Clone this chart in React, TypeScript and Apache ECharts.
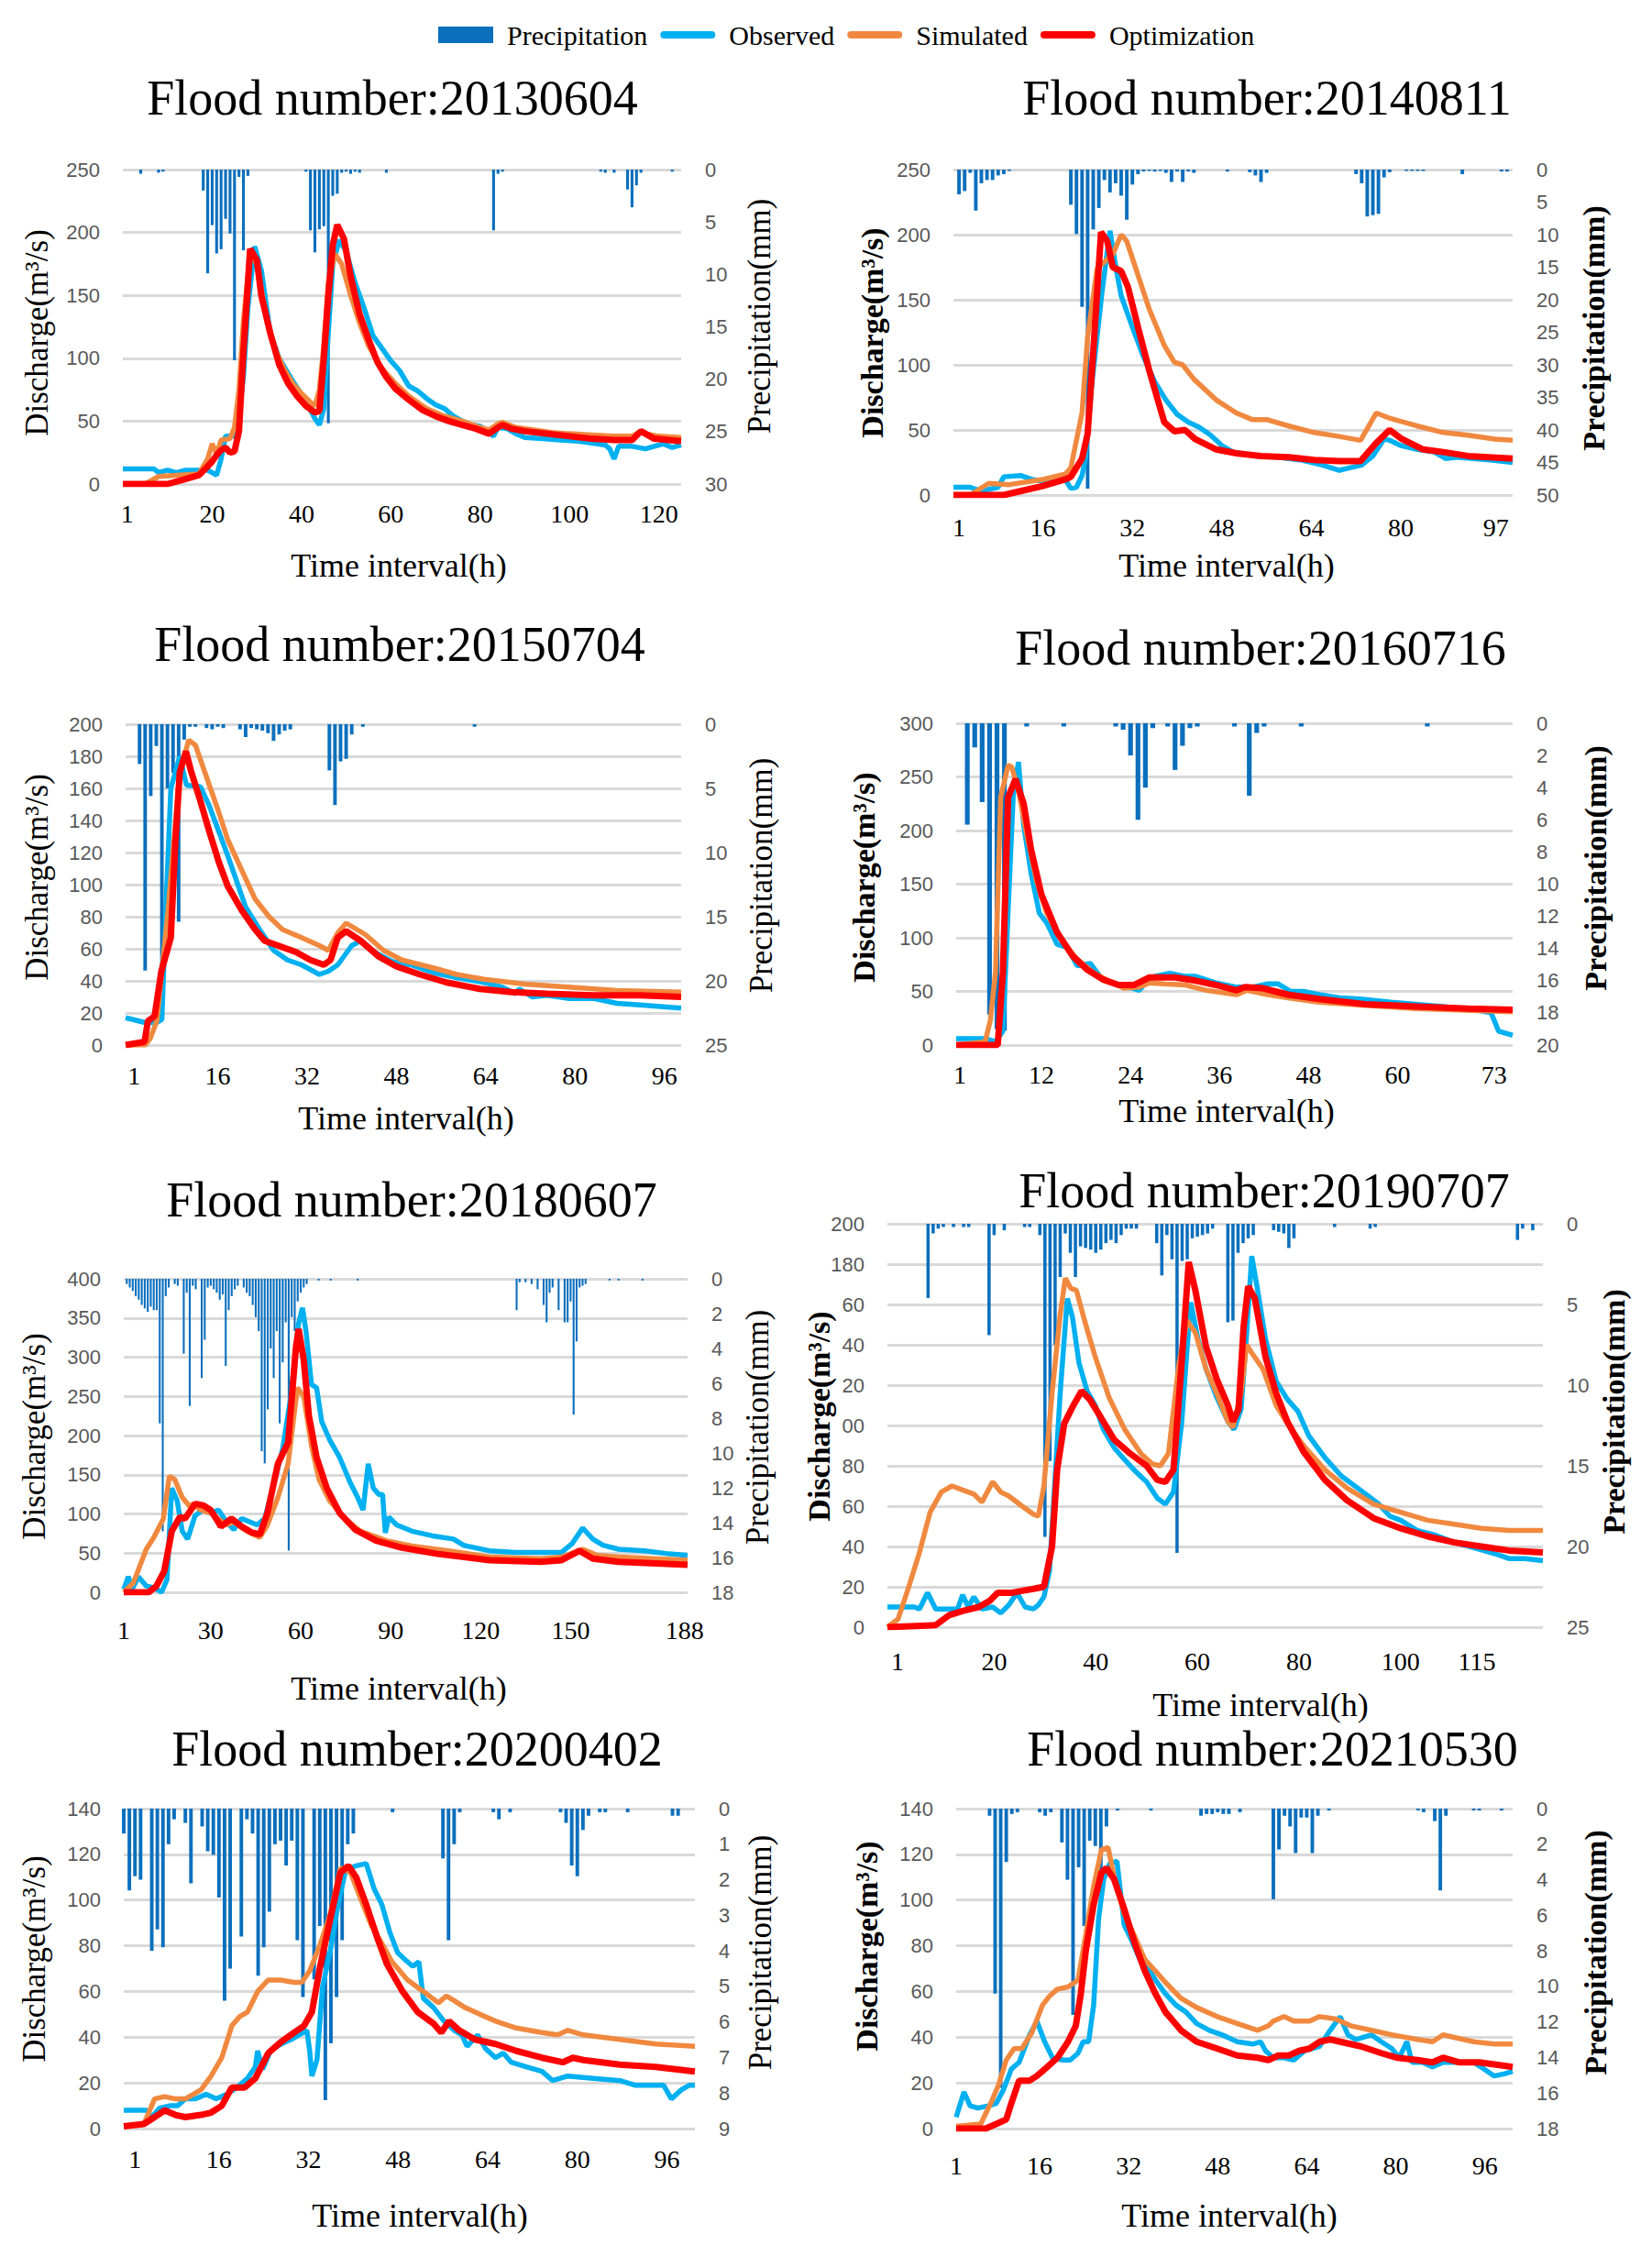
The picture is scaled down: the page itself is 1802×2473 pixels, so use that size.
import React, { useEffect, useRef } from 'react';
import * as echarts from 'echarts';

// ---------- Flood 20130604 ----------
const f1Ticks = [1, 20, 40, 60, 80, 100, 120];
const f1Obs = [[0,12],[7,12],[8,9],[10,11],[12,9],[14,11],[19,11],[21,7],[22,20],[23,38],[25,38],[26,55],[27,85],[28,140],[29.5,189],[31,170],[33,120],[35,100],[38,82],[41,66],[43,52],[44,47],[45,60],[46,120],[47,175],[48.5,194],[50,185],[52,160],[54,140],[56,118],[58,108],[60,98],[62,90],[64,78],[66,74],[68,68],[70,63],[72,60],[74,54],[76,50],[78,47],[80,46],[82,41],[83,38],[84,45],[86,44],[88,40],[90,37],[94,36],[98,35],[102,34],[106,32],[108,31],[109,28],[110,20],[111,30],[114,30],[117,28],[119,30],[121,32],[123,29],[125,31]];
const f1Sim = [[0,0],[5,0],[8,6],[12,7],[17,8],[19,20],[20,32],[21,24],[22,35],[24,36],[25,45],[26,75],[27,130],[28.5,183],[30,175],[32,135],[34,108],[36,92],[38,80],[40,72],[42,65],[43,62],[44,75],[45,110],[46,160],[47.5,183],[49,175],[51,150],[53,128],[55,110],[58,92],[61,80],[64,70],[68,60],[72,54],[76,50],[80,45],[82,43],[84,48],[85,49],[88,45],[92,43],[96,41],[100,40],[105,39],[110,38],[114,38],[116,42],[117,40],[120,38],[125,37]];
const f1Opt = [[0,0],[10,0],[14,4],[17,7],[19,14],[20,18],[21,23],[22,27],[23,29],[24,25],[25,26],[26,42],[27,105],[28.5,187],[30,178],[31,150],[33,120],[35,95],[37,80],[39,70],[41,62],[43,57],[44,58],[45,100],[46,150],[47,190],[48,206],[49.5,195],[51,165],[53,135],[55,115],[57,97],[59,85],[61,76],[64,67],[67,59],[70,54],[73,50],[76,47],[79,44],[82,40],[84,45],[85,47],[87,44],[90,42],[95,40],[100,38],[105,36],[110,35],[114,35],[116,42],[117,40],[119,36],[125,34]];
const f1Rain = [[4,0.4],[8,0.3],[9,0.2],[18,2.0],[19,9.9],[20,5.3],[21,8.0],[22,7.6],[23,4.7],[24,6.1],[25,18.2],[26,0.7],[27,7.7],[28,0.6],[41,0.2],[42,5.8],[43,7.9],[44,5.7],[45,5.4],[46,24.2],[47,2.5],[48,2.3],[49,0.3],[50,0.2],[51,0.4],[52,0.2],[53,0.3],[59,0.3],[83,5.8],[84,0.4],[85,0.2],[107,0.2],[108,0.3],[110,0.3],[113,1.9],[114,3.6],[115,1.5],[116,0.3],[123,0.2]];

// ---------- Flood 20140811 ----------
const f2Ticks = [1, 16, 32, 48, 64, 80, 97];
const f2Obs = [[0,6],[3,6],[5,3],[8,6],[9,14],[12,15],[14,12],[17,10],[20,12],[21,5],[22,6],[23,15],[23.6,28],[24.8,87],[26.6,157],[28,203],[29,176],[30,153],[32,129],[34,106],[36,87],[38,73],[40,62],[42,56],[44,52],[46,46],[48,38],[50,33],[54,30],[58,29],[62,27],[66,23],[69,19],[71,21],[73,23],[75,30],[77,43],[78,42],[80,38],[83,35],[86,33],[88,28],[90,29],[93,28],[96,27],[100,25]];
const f2Sim = [[0,0],[3,0],[6.3,9],[10,8],[16,12],[20,16],[21,21],[23,63],[24,122],[25.7,174],[28.5,185],[30,200],[31,195],[33,169],[35,143],[37.7,115],[39.5,102],[41,100],[43,89],[47,73],[50.6,63],[53.4,58],[56,58],[60,53],[64.5,48],[69,45],[72.8,42],[75.6,63],[78,59],[83,53],[87.6,48],[92,46],[96.8,43],[100,42]];
const f2Opt = [[0,0],[9,0],[12,3],[16,7],[20,12],[21,14],[23,28],[24,47],[25,110],[26.4,202],[27.5,195],[28.5,175],[30,172],[31.2,160],[33,129],[35,96],[37.7,56],[39.5,49],[41.4,50],[43.2,43],[47,35],[50.6,32],[55,30],[60,29],[64.5,27],[69,26],[72.8,26],[75.6,40],[78,50],[80.2,43],[84,35],[87.6,33],[92,30],[100,28]];
const f2Rain = [[1,3.8],[2,3.3],[3,0.5],[4,6.3],[5,2.1],[6,1.6],[7,1.6],[8,0.9],[9,0.7],[10,0.2],[21,5.4],[22,9.9],[23,21.1],[24,49],[25,9.2],[26,5.9],[27,1.6],[28,3.5],[29,2.1],[30,4.0],[31,7.7],[32,2.3],[33,0.7],[34,0.3],[35,0.2],[36,0.3],[37,0.2],[38,0.5],[39,1.9],[40,0.3],[41,1.9],[42,0.3],[43,0.5],[49,0.3],[53,0.4],[54,0.9],[55,1.9],[56,0.5],[72,0.7],[73,2.1],[74,7.2],[75,7.0],[76,6.8],[77,1.2],[78,0.4],[81,0.2],[82,0.2],[83,0.2],[84,0.2],[91,0.7],[98,0.3],[99,0.3]];

// ---------- Flood 20150704 ----------
const f3Ticks = [1, 16, 32, 48, 64, 80, 96];
const f3Obs = [[-0.5,17],[3,14],[5,14],[6,16],[6.7,84],[7.6,160],[9.2,180],[10.4,162],[12.9,161],[14.5,149],[17.8,118],[21,86],[23.5,72],[26,59],[28.5,53],[31,50],[34.2,44],[35.8,46],[37.5,50],[40,62],[41.6,65],[44,58],[47.3,52],[50.6,50],[54.7,45],[58.8,42],[63.7,39],[67,36],[69.4,32],[70,35],[72.3,30],[75,31],[79,29],[83.4,29],[87.5,26],[91.6,25],[99,23]];
const f3Sim = [[-0.5,0],[3,0],[3.9,4],[5.1,15],[7.1,84],[9.2,170],[10.8,190],[12,187],[13.7,170],[16.2,145],[17.8,128],[20.3,109],[22.7,91],[25.2,80],[27.6,72],[31,67],[34.2,62],[35.8,59],[37.5,70],[39,76],[42.4,69],[45.7,59],[49,53],[54.7,48],[58.8,44],[63.7,41],[71,38],[79.3,36],[87.5,34],[99,33]];
const f3Opt = [[-0.5,0],[2.9,2],[3.5,15],[4.7,18],[5.9,46],[7.6,67],[8.4,126],[9.2,170],[10.3,183],[11.2,171],[12.9,152],[14.5,133],[16.2,114],[17.8,99],[20.3,84],[22.7,72],[24.4,65],[27.6,61],[30,58],[32.6,53],[35,50],[36.2,53],[37.5,67],[39,71],[41.6,65],[44.9,55],[48,49],[52.2,44],[57,39],[62.9,35],[68.6,33],[75,32],[83.4,31],[91.6,31],[99,30]];
const f3Rain = [[2,3.1],[3,19.2],[4,5.6],[5,1.7],[6,18.9],[7,5.0],[8,3.8],[9,15.4],[10,1.2],[11,0.2],[12,0.2],[14,0.3],[15,0.4],[16,0.2],[17,0.3],[20,0.4],[21,1.0],[22,0.3],[23,0.4],[24,0.5],[25,0.7],[26,1.3],[27,0.8],[28,0.5],[29,0.4],[36,3.6],[37,6.3],[38,2.9],[39,2.7],[40,0.8],[42,0.2],[62,0.2]];

// ---------- Flood 20160716 ----------
const f4Ticks = [1, 12, 24, 36, 48, 60, 73];
const f4Obs = [[0.5,6],[4.4,6],[5.8,3],[6.8,13],[7.5,125],[8.2,234],[8.9,264],[9.6,205],[10.6,160],[11.7,123],[12.7,114],[14.1,94],[15.5,91],[16.8,74],[18.6,76],[20,63],[21.7,57],[23.8,54],[25.2,51],[25.9,57],[27.2,64],[29.3,67],[31.4,64],[32.8,64],[35.5,58],[38.3,54],[40.4,54],[42.5,57],[43.9,57],[45.6,50],[47.3,50],[49.4,47],[52.2,44],[54.9,43],[59.1,40],[66,36],[70.2,33],[72.6,30],[73.6,13],[75.5,9]];
const f4Sim = [[0.5,0],[4.4,3],[5.1,23],[5.8,68],[6.5,231],[7.5,261],[8,259],[8.9,237],[9.9,200],[11.3,154],[12.7,123],[14.8,97],[16.8,80],[18.9,68],[21,60],[23.1,53],[25.2,54],[26.5,58],[28.6,57],[31.4,56],[34.2,51],[38.3,47],[39.7,51],[42.5,47],[45.2,44],[49.4,40],[55.6,37],[62.5,34],[75.5,31]];
const f4Opt = [[0.5,0],[6.1,0],[6.8,68],[7.5,231],[8.5,248],[9.6,225],[10.6,182],[12,140],[14.1,105],[16.2,83],[18.2,70],[20.3,61],[22.4,56],[24.5,56],[26.5,63],[30,63],[32.8,60],[35.5,56],[38.3,51],[39.4,54],[41.8,53],[45.2,47],[49.4,43],[55.6,38],[62.5,36],[69.5,34],[75.5,33]];
const f4Rain = [[2,6.3],[3,1.5],[4,4.9],[5,18.1],[6,19.0],[7,19.1],[10,0.2],[15,0.2],[22,0.2],[23,0.4],[24,2.0],[25,6.0],[26,4.0],[27,0.3],[29,0.2],[30,2.9],[31,1.4],[32,0.3],[33,0.2],[38,0.2],[40,4.5],[41,0.6],[42,0.2],[47,0.2],[64,0.2]];

// ---------- Flood 20180607 ----------
const f5Ticks = [1, 30, 60, 90, 120, 150, 188];
const f5Obs = [[1,4],[2.5,20],[3.8,4],[5.9,20],[8.5,8],[11,6],[13.6,0],[15.4,16],[17,133],[18.8,117],[20.5,78],[22.3,68],[24.8,98],[27.4,105],[30,101],[32.6,105],[35.2,90],[37.7,80],[40.3,94],[42.9,90],[45.5,86],[48,94],[50.7,133],[54,183],[56.7,250],[59.3,343],[60.6,363],[61.8,332],[63.6,265],[65.3,261],[67,218],[69.6,195],[73,172],[76.5,140],[79,121],[80.8,105],[82.5,164],[84.2,133],[86,125],[87.3,125],[88.2,76],[89.4,96],[92,86],[97.1,78],[104,72],[110.9,68],[114.3,60],[122.9,53],[131.5,51],[140,51],[147,51],[150.5,62],[154,82],[157.4,68],[160.8,60],[166,55],[174.6,53],[183,49],[189,47]];
const f5Sim = [[1,0],[4.2,12],[8.5,55],[11,70],[14.2,94],[16.2,148],[18,144],[20.5,121],[23.1,109],[24,113],[26.6,105],[30,101],[35.2,86],[37.7,90],[42,78],[46.4,70],[48.9,86],[52.4,121],[55.8,164],[58.9,261],[61,250],[63.6,187],[66.1,144],[69.6,117],[74.8,94],[79.9,78],[88.5,66],[97.1,59],[109.2,53],[122.9,45],[140,43],[147,45],[154,55],[159,47],[166,45],[189,41]];
const f5Opt = [[1,0],[9.3,0],[11.9,8],[14.5,27],[17,78],[19.7,96],[21.4,94],[24.8,113],[27.4,111],[30,105],[33.4,84],[36.9,94],[40.3,84],[43.8,76],[46.4,74],[48.9,101],[52.4,164],[55.8,191],[58.4,312],[59.3,336],[61,297],[62.7,226],[65.3,172],[68.7,133],[73,101],[78.2,80],[85.1,66],[93.7,57],[105.7,49],[122.9,41],[140,39],[147,41],[153,53],[157.4,43],[166,39],[189,35]];
const f5Rain = [[2,0.3],[3,0.5],[4,0.7],[5,1.0],[6,1.2],[7,1.5],[8,1.7],[9,1.9],[10,1.6],[11,1.8],[12,1.8],[13,8.3],[14,14.5],[15,1.0],[16,0.5],[18,0.3],[19,0.4],[21,4.3],[22,0.8],[23,7.3],[24,0.4],[25,0.6],[27,5.7],[28,3.5],[29,0.5],[30,0.4],[31,0.6],[32,0.8],[33,1.2],[34,0.9],[35,5.0],[36,1.8],[37,1.0],[38,0.6],[39,0.4],[41,0.5],[42,0.8],[43,1.0],[44,1.5],[45,2.2],[46,3.0],[47,9.9],[48,10.6],[49,7.5],[50,4.0],[51,5.7],[52,3.0],[53,8.3],[54,4.8],[55,2.5],[56,15.6],[57,2.2],[58,3.0],[59,1.3],[60,0.8],[61,0.5],[62,0.3],[66,0.1],[70,0.1],[79,0.1],[132,1.8],[133,0.2],[135,0.2],[137,0.3],[139,0.6],[141,1.5],[142,2.5],[143,0.8],[144,0.5],[146,1.8],[148,2.5],[149,2.5],[150,1.3],[151,7.8],[152,3.6],[153,0.5],[154,0.4],[155,0.3],[163,0.1],[166,0.1],[174,0.1]];

// ---------- Flood 20190707 ----------
const f6Ticks = [1, 20, 40, 60, 80, 100, 115];
const f6Obs = [[-1,10],[4.3,10],[5.3,9],[6.9,17],[8.5,9],[12.8,9],[13.8,16],[14.9,10],[16,15],[17.6,9],[19.7,10],[21.3,7],[22.9,11],[24.5,17],[26.1,10],[27.7,9],[28.7,11],[29.8,15],[30.9,28],[31.9,70],[33,116],[34.4,163],[35.4,154],[36.7,131],[38.3,117],[39.9,110],[41.5,98],[43.6,89],[45.7,83],[47.9,77],[50,72],[52.1,64],[53.7,61],[55.3,67],[56.9,101],[58,139],[58.7,161],[60.1,143],[61.7,128],[63.8,114],[66,102],[67.2,98],[68.6,108],[69.7,146],[70.7,184],[71.8,168],[73.4,143],[75.5,122],[77.7,113],[79.8,107],[81.9,95],[85.1,84],[88.3,75],[92.6,67],[95.7,61],[97.9,55],[100,53],[103.2,48],[106.4,46],[110.6,42],[114.9,39],[119.1,36],[121.3,34],[124.5,34],[128,33]];
const f6Sim = [[-1,0],[1.1,4],[3.2,20],[5.3,37],[7.4,57],[9.6,67],[11.7,70],[13.8,68],[16,66],[17.6,62],[19.7,72],[21.3,67],[22.9,65],[25.5,60],[27.7,56],[28.7,55],[29.8,70],[31.4,116],[33,155],[34,173],[35.1,168],[36.2,167],[37.8,152],[39.9,134],[42.6,114],[45.7,98],[48.9,86],[51.1,81],[52.7,80],[54.3,86],[56.4,131],[58,152],[59.6,146],[61.7,128],[63.8,116],[66,102],[67,99],[68.6,116],[69.7,140],[70.7,136],[72.9,128],[75.5,110],[77.7,101],[80.9,90],[85.1,78],[89.4,69],[94.7,61],[100,57],[105.3,53],[110.6,51],[115.9,49],[121.3,48],[128,48]];
const f6Opt = [[-1,0],[8.5,1],[11.2,6],[13.8,8],[17,10],[19.1,13],[20.7,17],[23.4,17],[25.5,18],[27.7,19],[29.8,20],[31.4,40],[32.4,78],[33.8,101],[35.6,110],[37.2,117],[38.8,113],[41,104],[43.6,93],[46.8,86],[50,80],[52.1,73],[53.7,72],[55.3,78],[56.9,131],[58.3,181],[59.6,167],[61.7,139],[63.8,123],[66,110],[67,102],[68.1,108],[69.1,149],[70,169],[71.3,163],[73.4,134],[75.5,116],[77.7,102],[80.9,87],[85.1,73],[89.4,63],[94.7,54],[100,49],[105.3,45],[110.6,42],[115.9,40],[121.3,38],[128,37]];
const f6Rain = [[7,4.6],[8,0.6],[9,0.3],[10,0.2],[12,0.2],[14,0.2],[15,0.2],[19,6.9],[20,0.7],[22,0.4],[26,0.2],[27,0.2],[29,0.7],[30,19.4],[31,14.7],[32,7.5],[33,3.3],[34,0.6],[35,1.8],[36,3.3],[37,1.4],[38,1.5],[39,1.6],[40,1.8],[41,1.6],[42,1.2],[43,1.0],[44,1.2],[45,0.7],[46,0.3],[47,0.3],[48,0.3],[52,1.2],[53,3.2],[54,0.7],[55,2.2],[56,20.4],[57,2.3],[58,2.2],[59,0.9],[60,0.8],[61,0.7],[62,0.6],[63,0.3],[66,6.1],[67,6.0],[68,1.8],[69,1.2],[70,0.9],[71,0.7],[75,0.4],[76,0.5],[77,0.6],[78,1.5],[79,0.9],[87,0.2],[94,0.3],[95,0.2],[123,1.0],[124,0.3],[126,0.4]];

// ---------- Flood 20200402 ----------
const f7Ticks = [1, 16, 32, 48, 64, 80, 96];
const f7Obs = [[-1,8],[3.1,8],[4,5],[5.4,9],[7.2,10],[8.6,10],[10,13],[11.8,13],[13.7,15],[15.5,13],[17.4,15],[19.2,18],[21.1,22],[22.5,27],[22.9,34],[23.8,26],[25.2,34],[27.1,37],[28.9,39],[30.3,41],[31.7,43],[32.2,34],[32.6,23],[33.5,30],[34.5,62],[35.9,78],[37.2,97],[38.6,113],[40.5,115],[42.3,116],[43.7,105],[45.1,98],[46.5,86],[47.9,77],[49.2,74],[50.6,71],[51.7,73],[52.5,57],[54.3,53],[56.2,47],[58,43],[59.4,41],[60.3,36],[62.2,41],[63.6,35],[65.4,31],[66.8,33],[68.2,29],[70.9,27],[73.7,25],[75.6,21],[78.3,23],[82.9,22],[87.6,21],[90.3,19],[94,19],[95.4,19],[96.8,13],[98.6,17],[100,19],[101,19]];
const f7Sim = [[-1,1],[2.6,2],[4.5,13],[6.3,14],[8.2,13],[10,13],[12.8,17],[14.6,23],[16.5,31],[18.3,45],[19.7,49],[21.1,51],[22.9,60],[24.8,65],[27.1,65],[29.4,64],[30.8,64],[32.2,69],[34,80],[35.9,94],[37.7,114],[39.5,112],[41.4,100],[43.2,89],[45.1,81],[46.9,73],[49.7,65],[52.5,60],[55.2,55],[56.6,58],[58,56],[59.9,53],[62.6,50],[65.4,47],[69.1,44],[73.7,42],[76.5,41],[78.3,43],[81.1,41],[87.6,39],[94,37],[101,36]];
const f7Opt = [[-1,1],[2.6,2],[4.5,5],[6.3,8],[8.2,6],[10,5],[12.8,6],[14.6,7],[16.5,10],[18.3,18],[20.6,18],[22.5,22],[24.8,33],[27.1,38],[29.4,42],[31.2,45],[32.6,51],[34,70],[35.9,92],[37.7,112],[39.1,115],[40.5,110],[42.3,98],[44.2,84],[46,72],[48.8,60],[51.5,51],[54.3,46],[55.7,42],[57.1,47],[58.9,43],[61.7,39],[65.4,37],[69.1,34],[73.7,31],[77.4,29],[79.2,31],[81.1,30],[87.6,28],[94,27],[101,25]];
const f7Rain = [[-1,0.7],[0,2.3],[1,1.9],[2,2.0],[4,4.0],[5,3.4],[6,3.9],[7,1.0],[8,0.3],[10,0.4],[11,2.1],[13,0.5],[14,1.2],[15,1.3],[16,2.5],[17,5.4],[18,4.5],[20,3.6],[21,0.3],[22,0.7],[23,4.7],[24,3.9],[25,2.9],[26,1.0],[27,0.9],[28,1.6],[29,0.9],[30,3.7],[31,5.3],[33,4.8],[34,3.3],[35,8.2],[36,6.6],[37,5.3],[38,3.7],[39,1.0],[40,0.7],[47,0.1],[56,1.4],[57,3.7],[58,1.0],[59,0.1],[65,0.1],[66,0.3],[68,0.1],[77,0.1],[78,0.4],[79,1.6],[80,1.9],[81,0.6],[82,0.2],[84,0.1],[85,0.1],[89,0.1],[97,0.2],[98,0.2]];

// ---------- Flood 20210530 ----------
const f8Ticks = [1, 16, 32, 48, 64, 80, 96];
const f8Obs = [[1,5],[2.4,16],[3.5,10],[4.9,9],[6.8,10],[8.2,11],[9.5,17],[10.9,26],[12.3,29],[14.2,41],[15.5,47],[16.9,38],[18.3,31],[20.2,30],[21.5,30],[22.9,33],[23.8,38],[24.8,38],[25.7,54],[26.6,92],[27.5,109],[28.6,116],[29.9,117],[31.2,89],[32.6,82],[34,74],[34.9,73],[36.8,65],[38.6,59],[40.5,54],[42.3,51],[44.2,46],[46.5,43],[48.8,41],[51.5,38],[54.3,37],[55.7,38],[56.6,34],[58,31],[59.9,31],[61.7,30],[63.6,34],[66.3,36],[68.2,43],[70,49],[71.4,41],[72.8,39],[75.6,41],[77.4,38],[79.3,35],[80.6,31],[82,38],[82.9,29],[84.8,29],[86.6,27],[88.5,29],[91.3,29],[94,29],[95.9,26],[97.7,23],[99.6,24],[101,25]];
const f8Sim = [[1,1],[5.4,2],[7.2,11],[8.6,19],[10,30],[11.4,35],[12.8,35],[14.6,42],[16.5,54],[17.8,58],[19.2,61],[21.1,62],[22.9,65],[24.3,85],[25.7,106],[27.1,122],[28.3,123],[29.4,110],[31.2,94],[33.1,84],[34.9,74],[36.8,69],[38.6,64],[41.4,57],[44.2,53],[47.9,49],[51.5,46],[55.2,43],[57.1,45],[58,47],[59.9,49],[61.7,47],[64.5,47],[66.3,49],[69.1,48],[71.9,45],[75.6,43],[79.3,41],[83.9,39],[86.6,38],[88.5,41],[90.3,40],[94,38],[97.7,37],[101,37]];
const f8Opt = [[1,0],[6.3,0],[8.2,2],[10,4],[10.9,11],[12.3,21],[14.2,21],[15.5,23],[17.4,27],[19.2,31],[21.1,38],[22.5,45],[23.4,59],[24.3,78],[25.7,98],[27.1,112],[28,114],[29.4,109],[31.2,96],[33.1,81],[34.9,69],[36.8,59],[38.6,51],[41.4,43],[44.2,38],[47.9,35],[51.5,32],[55.2,31],[57.1,30],[58.9,32],[60.8,32],[62.6,34],[64.5,35],[66.3,38],[68.2,39],[70,38],[73.7,36],[77.4,33],[80.2,31],[83.9,30],[86.6,29],[88.5,31],[91.3,29],[95,29],[101,27]];
const f8Rain = [[7,0.4],[8,10.4],[9,15.7],[10,3.0],[11,0.3],[12,0.2],[16,0.2],[17,0.4],[18,0.2],[20,1.9],[21,4.0],[22,11.6],[23,3.3],[24,6.6],[25,1.8],[26,2.1],[27,3.5],[28,1.0],[30,0.1],[36,0.1],[45,0.4],[46,0.3],[47,0.3],[48,0.2],[49,0.3],[50,0.3],[52,0.2],[58,5.1],[59,2.3],[60,0.4],[61,1.0],[62,2.5],[63,0.5],[64,0.5],[65,2.5],[66,0.4],[68,0.1],[84,0.1],[85,0.2],[87,0.7],[88,4.6],[89,0.4],[94,0.1],[95,0.1],[99,0.1]];

// ---------- panel definitions (data / scales) ----------
const panels = [
  { title: 'Flood number:20130604', obs: f1Obs, sim: f1Sim, opt: f1Opt, rain: f1Rain, ticks: f1Ticks, tMin: 0, tMax: 125, qMax: 250, qStep: 50, pMax: 30, pStep: 5 },
  { title: 'Flood number:20140811', obs: f2Obs, sim: f2Sim, opt: f2Opt, rain: f2Rain, ticks: f2Ticks, tMin: 0, tMax: 100, qMax: 250, qStep: 50, pMax: 50, pStep: 5 },
  { title: 'Flood number:20150704', obs: f3Obs, sim: f3Sim, opt: f3Opt, rain: f3Rain, ticks: f3Ticks, tMin: -0.5, tMax: 99, qMax: 200, qStep: 20, pMax: 25, pStep: 5 },
  { title: 'Flood number:20160716', obs: f4Obs, sim: f4Sim, opt: f4Opt, rain: f4Rain, ticks: f4Ticks, tMin: 0.5, tMax: 75.5, qMax: 300, qStep: 50, pMax: 20, pStep: 2 },
  { title: 'Flood number:20180607', obs: f5Obs, sim: f5Sim, opt: f5Opt, rain: f5Rain, ticks: f5Ticks, tMin: 1, tMax: 189, qMax: 400, qStep: 50, pMax: 18, pStep: 2 },
  { title: 'Flood number:20190707', obs: f6Obs, sim: f6Sim, opt: f6Opt, rain: f6Rain, ticks: f6Ticks, tMin: -1, tMax: 128, qMax: 200, qStep: 20, pMax: 25, pStep: 5, clipped: true },
  { title: 'Flood number:20200402', obs: f7Obs, sim: f7Sim, opt: f7Opt, rain: f7Rain, ticks: f7Ticks, tMin: -1, tMax: 101, qMax: 140, qStep: 20, pMax: 9, pStep: 1 },
  { title: 'Flood number:20210530', obs: f8Obs, sim: f8Sim, opt: f8Opt, rain: f8Rain, ticks: f8Ticks, tMin: 1, tMax: 101, qMax: 140, qStep: 20, pMax: 18, pStep: 2 },
];

// ---------- layout (pixels) ----------
const layout = [
  { left: 134, top: 185, width: 609, height: 343, title: [428, 107], qName: [40, 363], pName: [828, 345], tName: [435, 617], xMargin: 18, nameWeight: 'normal', nameSize: 35 },
  { left: 1040, top: 185, width: 610, height: 355, title: [1382, 107], qName: [951, 363], pName: [1738, 358], tName: [1338, 617], xMargin: 21, nameWeight: 'bold', nameSize: 34 },
  { left: 137, top: 790, width: 606, height: 350, title: [436, 703], qName: [40, 957], pName: [830, 955], tName: [443, 1220], xMargin: 19, nameWeight: 'normal', nameSize: 35 },
  { left: 1043, top: 789, width: 607, height: 351, title: [1375, 707], qName: [942, 957], pName: [1740, 947], tName: [1338, 1212], xMargin: 18, nameWeight: 'bold', nameSize: 34 },
  { left: 135, top: 1395, width: 615, height: 342, title: [449, 1309], qName: [37, 1567], pName: [826, 1557], tName: [435, 1842], xMargin: 27, nameWeight: 'normal', nameSize: 35 },
  { left: 968, top: 1335, width: 715, height: 440, title: [1379, 1299], qName: [893, 1545], pName: [1760, 1540], tName: [1375, 1860], xMargin: 23, nameWeight: 'bold', nameSize: 34 },
  { left: 135, top: 1973, width: 623, height: 349, title: [455, 1908], qName: [37, 2137], pName: [829, 2130], tName: [458, 2417], xMargin: 19, nameWeight: 'normal', nameSize: 35 },
  { left: 1043, top: 1973, width: 607, height: 349, title: [1388, 1908], qName: [945, 2123], pName: [1740, 2130], tName: [1341, 2417], xMargin: 26, nameWeight: 'bold', nameSize: 34 },
];

const SERIF = "'Liberation Serif', 'Times New Roman', serif";
const SANS = "'Liberation Sans', Arial, sans-serif";
const C_RAIN = '#0a6fbd';
const C_OBS = '#00b0f0';
const C_SIM = '#f0893f';
const C_OPT = '#ff0000';

function textEl(text: string, x: number, y: number, size: number, weight: string, rotate: boolean) {
  return {
    type: 'text',
    x,
    y,
    rotation: rotate ? Math.PI / 2 : 0,
    silent: true,
    style: {
      text,
      fill: '#000',
      font: `${weight} ${size}px ${SERIF}`,
      fontFamily: SERIF,
      fontSize: size,
      fontWeight: weight,
      textAlign: 'center',
      textVerticalAlign: 'middle',
      align: 'center',
      verticalAlign: 'middle',
    },
  };
}

export default function App() {
  const ref = useRef<HTMLDivElement>(null);

  useEffect(() => {
    if (!ref.current) return;
    const chart = echarts.init(ref.current, null, { renderer: 'svg' });
    const grid: any[] = [];
    const xAxis: any[] = [];
    const yAxis: any[] = [];
    const series: any[] = [];
    const graphic: any[] = [];

    panels.forEach((p, i) => {
      const L = layout[i];
      grid.push({ left: L.left, top: L.top, width: L.width, height: L.height, containLabel: false });
      xAxis.push({
        type: 'value', gridIndex: i, min: p.tMin, max: p.tMax,
        axisLine: { show: false }, axisTick: { show: false }, splitLine: { show: false },
        axisLabel: { customValues: p.ticks, fontFamily: SERIF, fontSize: 28, color: '#000', margin: L.xMargin },
      });
      yAxis.push({
        type: 'value', gridIndex: i, position: 'left', min: 0, max: p.qMax, interval: p.qStep,
        axisLine: { show: false }, axisTick: { show: false },
        splitLine: { show: true, lineStyle: { color: '#d9d9d9', width: 3 } },
        axisLabel: {
          fontFamily: SANS, fontSize: 22, color: '#595959', margin: 25,
          formatter: p.clipped
            ? (v: number) => (v >= 100 && v < 180 ? String(v).slice(1) : String(v))
            : (v: number) => String(v),
        },
      });
      yAxis.push({
        type: 'value', gridIndex: i, position: 'right', inverse: true, min: 0, max: p.pMax, interval: p.pStep,
        axisLine: { show: false }, axisTick: { show: false }, splitLine: { show: false },
        axisLabel: { fontFamily: SANS, fontSize: 22, color: '#595959', margin: 26 },
      });
      const bw = Math.max(2, (L.width / (p.tMax - p.tMin)) * 0.64);
      series.push({
        type: 'bar', name: 'Precipitation', xAxisIndex: i, yAxisIndex: 2 * i + 1,
        data: p.rain, barWidth: bw, itemStyle: { color: C_RAIN }, z: 1,
      });
      series.push({
        type: 'line', name: 'Observed', xAxisIndex: i, yAxisIndex: 2 * i, data: p.obs,
        showSymbol: false, symbol: 'none', lineStyle: { color: C_OBS, width: 5.5 }, itemStyle: { color: C_OBS }, z: 2,
      });
      series.push({
        type: 'line', name: 'Simulated', xAxisIndex: i, yAxisIndex: 2 * i, data: p.sim,
        showSymbol: false, symbol: 'none', lineStyle: { color: C_SIM, width: 5.5 }, itemStyle: { color: C_SIM }, z: 3,
      });
      series.push({
        type: 'line', name: 'Optimization', xAxisIndex: i, yAxisIndex: 2 * i, data: p.opt,
        showSymbol: false, symbol: 'none', lineStyle: { color: C_OPT, width: 7 }, itemStyle: { color: C_OPT }, z: 4,
      });
      graphic.push(textEl(p.title, L.title[0], L.title[1], 54, 'normal', false));
      graphic.push(textEl('Discharge(m³/s)', L.qName[0], L.qName[1], L.nameSize, L.nameWeight, true));
      graphic.push(textEl('Precipitation(mm)', L.pName[0], L.pName[1], L.nameSize, L.nameWeight, true));
      graphic.push(textEl('Time interval(h)', L.tName[0], L.tName[1], 36, 'normal', false));
    });

    const lineIcon = 'path://M4,0H56A4,4 0 0 1 56,8H4A4,4 0 0 1 4,0Z';
    chart.setOption({
      animation: false,
      backgroundColor: '#ffffff',
      legend: {
        top: 18,
        left: 473,
        itemWidth: 60,
        itemHeight: 18,
        itemGap: 14,
        textStyle: { fontFamily: SERIF, fontSize: 30, color: '#000', padding: [0, 0, 0, 10] },
        data: [
          { name: 'Precipitation', icon: 'rect' },
          { name: 'Observed', icon: lineIcon },
          { name: 'Simulated', icon: lineIcon },
          { name: 'Optimization', icon: lineIcon },
        ],
      },
      grid,
      xAxis,
      yAxis,
      series,
      graphic,
    });

    return () => chart.dispose();
  }, []);

  return (
    <div
      ref={ref}
      style={{ position: 'absolute', left: 0, top: 0, width: 1802, height: 2473, background: '#fff' }}
    />
  );
}
